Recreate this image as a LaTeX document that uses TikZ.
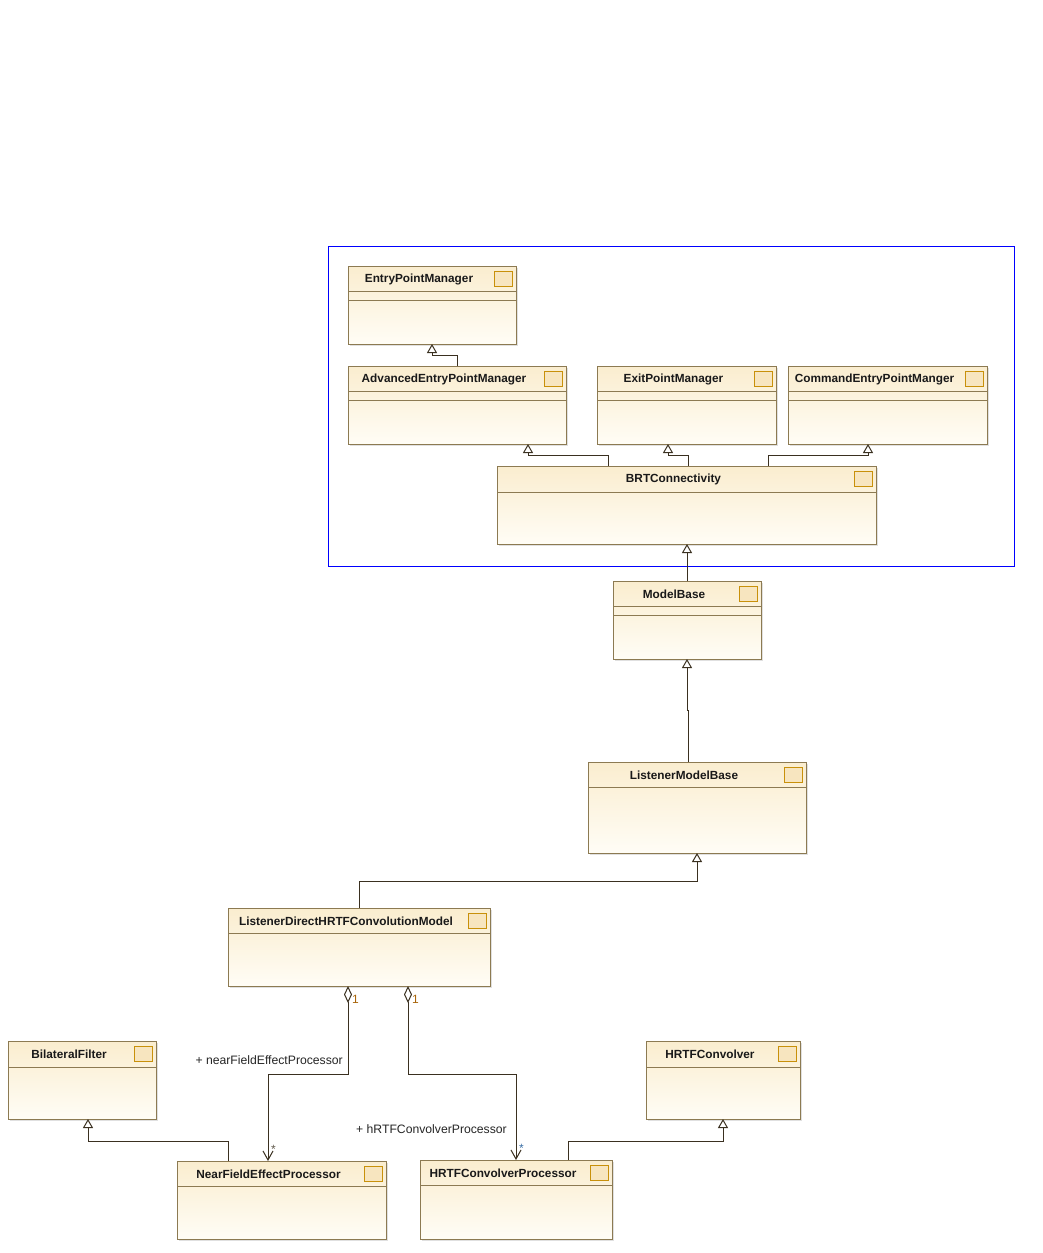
\documentclass[tikz,border=0pt]{standalone}
\usepackage{fontspec}
\setmainfont{Liberation Sans}
\usetikzlibrary{arrows.meta,shadows}
\definecolor{clsborder}{HTML}{8C7A52}
\definecolor{clstop}{HTML}{FAEDCF}
\definecolor{clsbot}{HTML}{FFFDF6}
\definecolor{iconfill}{HTML}{F7E5BF}
\definecolor{iconborder}{HTML}{C8900A}
\definecolor{conn}{HTML}{3A3020}
\definecolor{multc}{HTML}{A8650A}
\definecolor{multb}{HTML}{3A6EA5}
\tikzset{
 cls/.style={draw=clsborder, line width=1pt, top color=clstop, bottom color=clsbot, inner sep=0pt, outer sep=0pt, anchor=north west, drop shadow={shadow xshift=1.5pt, shadow yshift=-1.5pt, fill=black, opacity=0.12}},
 clstitle/.style={font=\bfseries\fontsize{11.8}{14}\selectfont, text=black!90, inner sep=0pt},
 clsicon/.style={draw=iconborder, fill=iconfill, line width=1pt, minimum width=18pt, minimum height=15pt, inner sep=0pt, outer sep=0pt, anchor=north west},
 sepline/.style={draw=clsborder, line width=1pt},
 gen/.style={draw=conn, line width=1pt, -{Triangle[open, length=9pt, width=10pt, fill=white]}},
 agg/.style={draw=conn, line width=1pt, {Diamond[open, length=17pt, width=8pt, fill=white]}-{Straight Barb[length=9pt, width=10pt]}},
 rolelabel/.style={font=\fontsize{12.2}{14}\selectfont, text=black!85, inner sep=0pt},
 mult/.style={font=\fontsize{12}{14}\selectfont, inner sep=0pt},
 frame/.style={draw=blue, line width=0.8pt, inner sep=0pt, outer sep=0pt, anchor=north west},
}
\newcommand\umlclass[6]{%
 \node[cls, minimum width={(#4-#2)*1pt}, minimum height={(#5-#3)*1pt}] (#1) at (#2,#3) {};
 \node[clstitle] (#1-title) at ({(#2+#4-26)/2},{#3+13.5}) {#6};
 \node[clsicon] (#1-icon) at ({#4-22},{#3+5}) {};
}
\newcommand\clssep[2]{%
 \draw[sepline] ([yshift=-#2pt]#1.north west) -- ([yshift=-#2pt]#1.north east);
}
\begin{document}
\begin{tikzpicture}[x=1pt,y=-1pt]
\useasboundingbox[fill=white] (0,0) rectangle (1043,1253);
\node[frame, minimum width=686pt, minimum height=320pt] (pkg) at (328,246) {};

\umlclass{entry}{348}{266}{516}{344}{EntryPointManager}
\clssep{entry}{25}\clssep{entry}{34}
\umlclass{adv}{348}{366}{566}{444}{AdvancedEntryPointManager}
\clssep{adv}{25}\clssep{adv}{34}
\umlclass{exit}{597}{366}{776}{444}{ExitPointManager}
\clssep{exit}{25}\clssep{exit}{34}
\umlclass{cmd}{788}{366}{987}{444}{CommandEntryPointManger}
\clssep{cmd}{25}\clssep{cmd}{34}
\umlclass{brt}{497}{466}{876}{544}{BRTConnectivity}
\clssep{brt}{26}
\umlclass{model}{613}{581}{761}{659}{ModelBase}
\clssep{model}{25}\clssep{model}{34}
\umlclass{lmb}{588}{762}{806}{853}{ListenerModelBase}
\clssep{lmb}{25}
\umlclass{ldh}{228}{908}{490}{986}{ListenerDirectHRTFConvolutionModel}
\clssep{ldh}{25}
\umlclass{bil}{8}{1041}{156}{1119}{BilateralFilter}
\clssep{bil}{26}
\umlclass{hconv}{646}{1041}{800}{1119}{HRTFConvolver}
\clssep{hconv}{26}
\umlclass{nfe}{177}{1161}{386}{1239}{NearFieldEffectProcessor}
\clssep{nfe}{25}
\umlclass{hcp}{420}{1160}{612}{1239}{HRTFConvolverProcessor}
\clssep{hcp}{25}

% generalizations
\draw[gen] (adv.north) -- ++(0,-11) -| (entry.south);
\draw[gen] ([xshift=-78.5pt]brt.north) -- ++(0,-11) -| ([xshift=-38pt]adv.south east);
\draw[gen] ([xshift=1.5pt]brt.north) -- ++(0,-11) -| ([xshift=-18.5pt]exit.south);
\draw[gen] ([xshift=81.5pt]brt.north) -- ++(0,-11) -| ([xshift=-19.5pt]cmd.south);
\draw[gen] (model.north) -- (model.north |- brt.south);
\draw[gen] ([xshift=-9pt]lmb.north) -- ++(0,-52) -| (model.south);
\draw[gen] (ldh.north) -- ++(0,-27) -| (lmb.south);
\draw[gen] ([xshift=-53.5pt]nfe.north) -- ++(0,-20) -| ([xshift=6pt]bil.south);
\draw[gen] ([xshift=52pt]hcp.north) -- ++(0,-19) -| (hconv.south);

% aggregations
\draw[agg] ([xshift=-11pt]ldh.south) -- ++(0,88) -| ([xshift=-13.5pt]nfe.north);
\draw[agg] ([xshift=49pt]ldh.south) -- ++(0,88) -| (hcp.north);

\node[mult, text=multc, anchor=west] (m1) at (352,999) {1};
\node[mult, text=multc, anchor=west] (m2) at (412,999) {1};
\node[mult, text=conn!80, anchor=west] (s1) at (271,1149) {*};
\node[mult, text=multb, anchor=west] (s2) at (519,1148) {*};
\node[rolelabel, anchor=east] (r1) at (343,1060) {+ nearFieldEffectProcessor};
\node[rolelabel, anchor=east] (r2) at (507,1129) {+ hRTFConvolverProcessor};
\end{tikzpicture}
\end{document}
